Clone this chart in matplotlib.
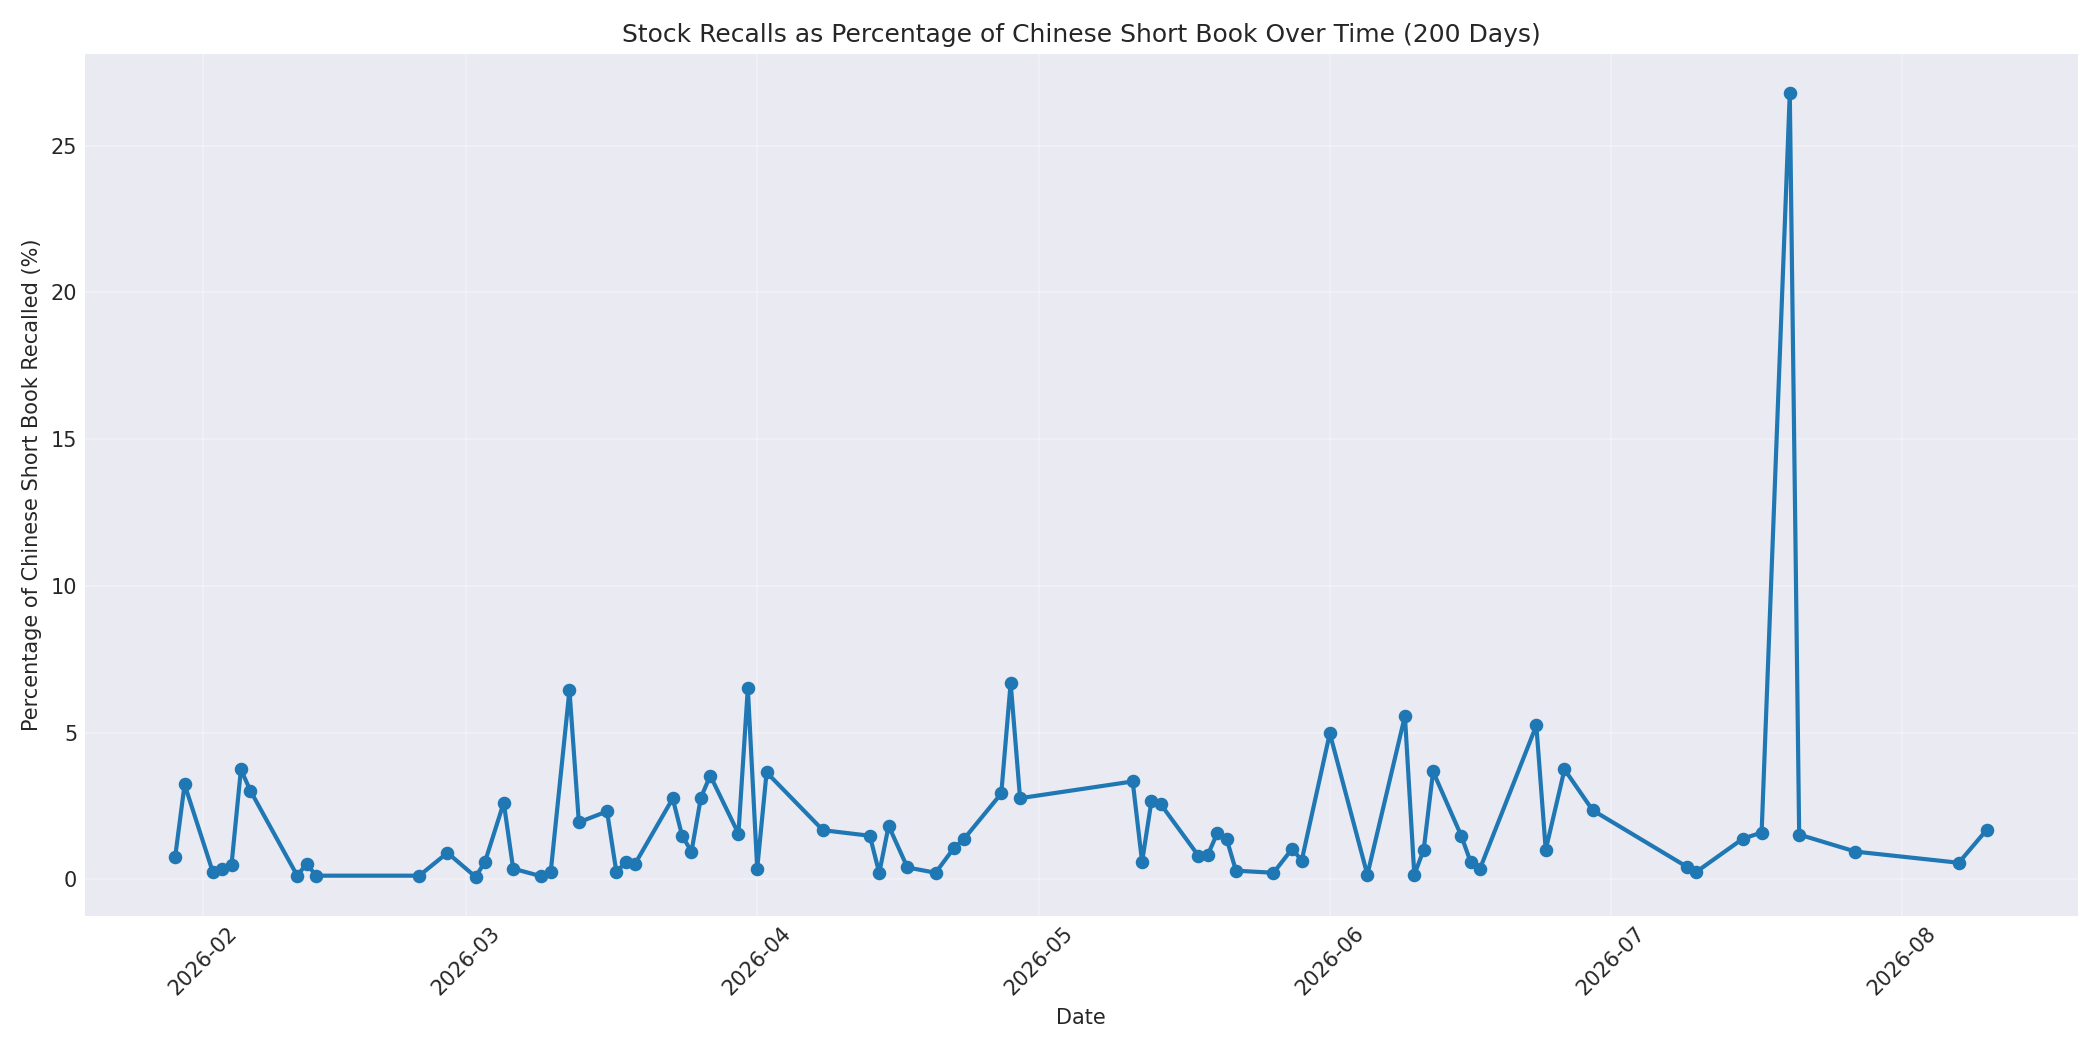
import matplotlib
matplotlib.use("Agg")
import matplotlib.pyplot as plt
import matplotlib.dates as mdates
import pandas as pd

# trading days with recalls and % of Chinese short book recalled
dates = [
    "2026-01-29", "2026-01-30", "2026-02-02", "2026-02-03", "2026-02-04",
    "2026-02-05", "2026-02-06", "2026-02-11", "2026-02-12", "2026-02-13",
    "2026-02-24", "2026-02-27", "2026-03-02", "2026-03-03", "2026-03-05",
    "2026-03-06", "2026-03-09", "2026-03-10", "2026-03-12", "2026-03-13",
    "2026-03-16", "2026-03-17", "2026-03-18", "2026-03-19", "2026-03-23",
    "2026-03-24", "2026-03-25", "2026-03-26", "2026-03-27", "2026-03-30",
    "2026-03-31", "2026-04-01", "2026-04-02", "2026-04-08", "2026-04-13",
    "2026-04-14", "2026-04-15", "2026-04-17", "2026-04-20", "2026-04-22",
    "2026-04-23", "2026-04-27", "2026-04-28", "2026-04-29", "2026-05-11",
    "2026-05-12", "2026-05-13", "2026-05-14", "2026-05-18", "2026-05-19",
    "2026-05-20", "2026-05-21", "2026-05-22", "2026-05-26", "2026-05-28",
    "2026-05-29", "2026-06-01", "2026-06-05", "2026-06-09", "2026-06-10",
    "2026-06-11", "2026-06-12", "2026-06-15", "2026-06-16", "2026-06-17",
    "2026-06-23", "2026-06-24", "2026-06-26", "2026-06-29", "2026-07-09",
    "2026-07-10", "2026-07-15", "2026-07-17", "2026-07-20", "2026-07-21",
    "2026-07-27", "2026-08-07", "2026-08-10",
]
pct_recalled = [
    0.78, 3.24, 0.26, 0.37, 0.51,
    3.75, 3.03, 0.13, 0.54, 0.13,
    0.13, 0.91, 0.09, 0.60, 2.62,
    0.37, 0.11, 0.25, 6.45, 1.95,
    2.32, 0.25, 0.60, 0.54, 2.76,
    1.49, 0.95, 2.79, 3.54, 1.56,
    6.52, 0.37, 3.65, 1.68, 1.49,
    0.22, 1.83, 0.41, 0.23, 1.09,
    1.37, 2.93, 6.70, 2.77, 3.34,
    0.60, 2.68, 2.56, 0.81, 0.84,
    1.57, 1.39, 0.30, 0.23, 1.05,
    0.64, 4.98, 0.16, 5.57, 0.16,
    1.01, 3.68, 1.49, 0.60, 0.37,
    5.25, 1.01, 3.75, 2.36, 0.44,
    0.25, 1.39, 1.60, 26.79, 1.53,
    0.95, 0.57, 1.70,
]

plt.style.use("seaborn-v0_8-darkgrid")
plt.rcParams["font.family"] = ["DejaVu Sans"]

df = pd.DataFrame({"date": pd.to_datetime(dates), "pct": pct_recalled})

fig, ax = plt.subplots(figsize=(14, 7), dpi=150)
ax.plot(df["date"], df["pct"], marker="o", linewidth=2, markersize=5.5, color="#1f77b4")
ax.set_title("Stock Recalls as Percentage of Chinese Short Book Over Time (200 Days)", fontsize=12)
ax.set_xlabel("Date")
ax.set_ylabel("Percentage of Chinese Short Book Recalled (%)")
ax.xaxis.set_major_locator(mdates.MonthLocator())
ax.xaxis.set_major_formatter(mdates.DateFormatter("%Y-%m"))
ax.grid(True, alpha=0.3)
plt.xticks(rotation=45)
plt.tight_layout()
fig.savefig("out.png", dpi=150)
